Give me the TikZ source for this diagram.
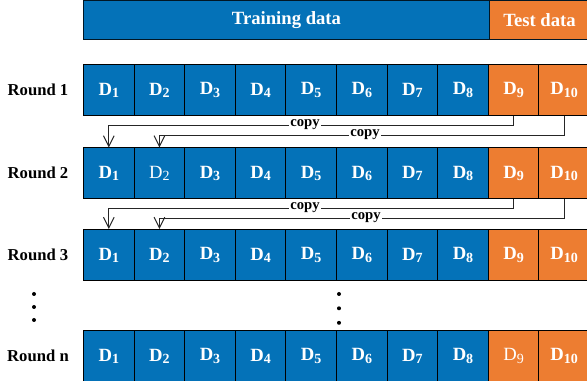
\documentclass[tikz,border=0pt]{standalone}
\usepackage{fontspec}
\setmainfont{Liberation Serif}
\usetikzlibrary{arrows.meta}
\definecolor{cblue}{RGB}{4,114,184}
\definecolor{corange}{RGB}{237,125,49}
\newcommand{\subn}[1]{\raisebox{-0.25ex}{\fontsize{10.5}{12}\selectfont #1}}
\begin{document}
\begin{tikzpicture}[x=0.75pt,y=-0.75pt,
  cell/.style={draw=black, line width=0.75pt, minimum width=37.95pt, minimum height=38.25pt,
    anchor=north west, inner sep=0pt, text=white, font=\fontsize{14}{16}\selectfont\bfseries},
  tr/.style={cell, fill=cblue},
  te/.style={cell, fill=corange},
  thin/.style={font=\fontsize{14}{16}\selectfont},
  bar/.style={draw=black!80!cblue, line width=0.75pt, anchor=north west, inner sep=0pt,
    minimum height=29.25pt, text=white, font=\fontsize{14}{16}\selectfont\bfseries},
  rlabel/.style={font=\fontsize{12.5}{14}\selectfont\bfseries},
  cp/.style={font=\fontsize{11}{12}\selectfont\bfseries, fill=white, inner sep=1pt},
  carrow/.style={draw=black!85, line width=0.75pt, -{Straight Barb[length=8pt,width=8pt]}}]
\useasboundingbox (0,0) rectangle (587,381);

% header bar
\node[bar, fill=cblue, minimum width=304.5pt] (train) at (83,0) {Training data};
\node[bar, fill=corange, minimum width=75pt] (test) at (489,0) {Test data};

% Round 1
\foreach \i in {1,...,8} \node[tr] (r1c\i) at ({83+(\i-1)*50.6},64) {D\subn{\i}};
\node[te] (r1c9) at (487.8,64) {D\subn{9}};
\node[te] (r1c10) at (538.4,64) {D\subn{10}};

% Round 2
\foreach \i in {1,3,4,5,6,7,8} \node[tr] (r2c\i) at ({83+(\i-1)*50.6},147.5) {D\subn{\i}};
\node[tr, thin] (r2c2) at (133.6,147.5) {D\subn{2}};
\node[te] (r2c9) at (487.8,147.5) {D\subn{9}};
\node[te] (r2c10) at (538.4,147.5) {D\subn{10}};

% Round 3
\foreach \i in {1,...,8} \node[tr] (r3c\i) at ({83+(\i-1)*50.6},229) {D\subn{\i}};
\node[te] (r3c9) at (487.8,229) {D\subn{9}};
\node[te] (r3c10) at (538.4,229) {D\subn{10}};

% Round n
\foreach \i in {1,...,8} \node[tr] (rnc\i) at ({83+(\i-1)*50.6},330) {D\subn{\i}};
\node[te, thin] (rnc9) at (487.8,330) {D\subn{9}};
\node[te] (rnc10) at (538.4,330) {D\subn{10}};

% round labels
\node[rlabel] (l1) at (38,89.5) {Round 1};
\node[rlabel] (l2) at (38,173) {Round 2};
\node[rlabel] (l3) at (38,254.5) {Round 3};
\node[rlabel] (ln) at (38,355.5) {Round n};

% copy arrows, round 1 -> 2
\draw[carrow] (r1c9.south) -- ++(0,10) -| (r2c1.north);
\draw[carrow] (r1c10.south) -- ++(0,19.3) -| (r2c2.north);
\node[cp] (cp1) at (305,125) {copy};
\node[cp] (cp2) at (365,134.3) {copy};

% copy arrows, round 2 -> 3
\draw[carrow] (r2c9.south) -- ++(0,9.5) -| (r3c1.north);
\draw[carrow] (r2c10.south) -- ++(0,18.8) -| (r3c2.north);
\node[cp] (cp3) at (305,208) {copy};
\node[cp] (cp4) at (366,217.3) {copy};

% vertical dots
\foreach \y in {294,307,320} \fill (34,\y) circle (2);
\foreach \y in {294,308.3,322.8} \fill (339,\y) circle (2);
\end{tikzpicture}
\end{document}
